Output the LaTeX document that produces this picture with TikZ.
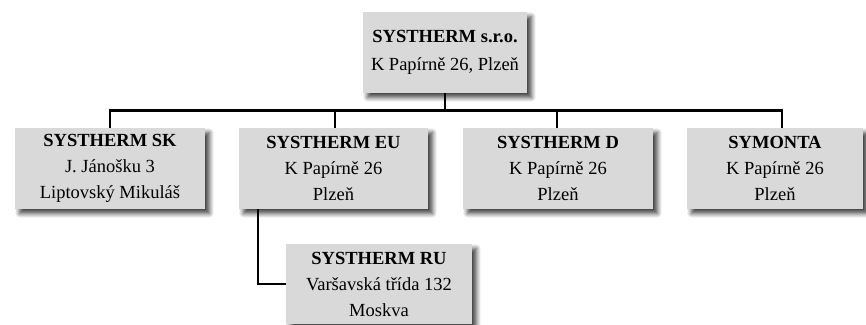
\documentclass[tikz,border=0pt]{standalone}
\usepackage{fontspec}
\setmainfont{Liberation Serif}
\usetikzlibrary{shadows.blur}
\definecolor{boxgray}{HTML}{D9D9D9}
\tikzset{
  orgbox/.style={fill=boxgray, draw=none, align=center, inner sep=0pt,
    minimum height=81pt,
    font=\fontsize{18.5}{26}\selectfont,
    blur shadow={shadow xshift=4.5pt, shadow yshift=-4.5pt, shadow blur radius=4.5pt, shadow opacity=75, shadow blur steps=8}},
  link/.style={line width=2.2pt, black}
}
\begin{document}
\begin{tikzpicture}[x=1pt,y=-1pt]
\useasboundingbox (0,0) rectangle (866,324);
\clip (0,0) rectangle (866,324);
\node[orgbox, minimum width=164pt, font=\fontsize{18.5}{28}\selectfont] (top) at (445,52.5) {\textbf{SYSTHERM s.r.o.}\\K Papírně 26, Plzeň};
\node[orgbox, minimum width=190pt] (sk) at (110,168.5) {\textbf{SYSTHERM SK}\\J. Jánošku 3\\Liptovský Mikuláš};
\node[orgbox, minimum width=189pt] (eu) at (333.5,168.5) {\textbf{SYSTHERM EU}\\K Papírně 26\\Plzeň};
\node[orgbox, minimum width=190pt] (d) at (558,168.5) {\textbf{SYSTHERM D}\\K Papírně 26\\Plzeň};
\node[orgbox, minimum width=176pt] (sym) at (775,168.5) {\textbf{SYMONTA}\\K Papírně 26\\Plzeň};
\node[orgbox, minimum width=186pt, minimum height=80pt] (ru) at (379,284) {\textbf{SYSTHERM RU}\\Varšavská třída 132\\Moskva};
\coordinate (bus) at (445,110.5);
\draw[link] (top.south) -- (bus);
\draw[link] (bus) -| (sk.north);
\draw[link] (bus) -| ([xshift=1.5pt]eu.north);
\draw[link] (bus) -| ([xshift=-1pt]d.north);
\draw[link] (bus) -| ([xshift=7pt]sym.north);
\draw[link] ([xshift=-75.5pt]eu.south) |- (ru.west);
\end{tikzpicture}
\end{document}
